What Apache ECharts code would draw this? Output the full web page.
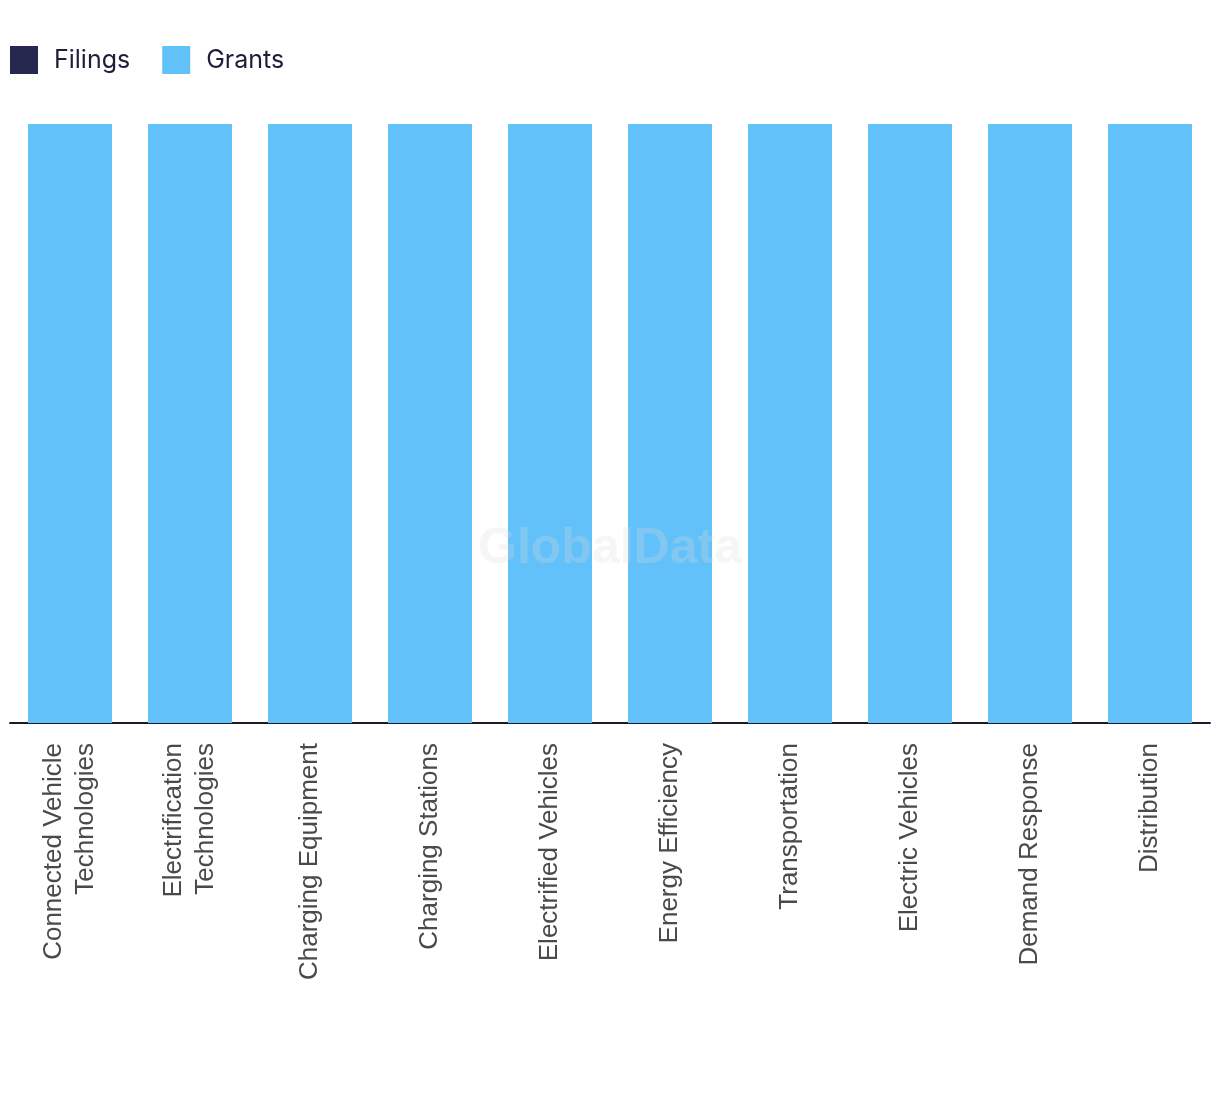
<!DOCTYPE html>
<html>
<head>
<meta charset="utf-8">
<script src="https://cdn.jsdelivr.net/npm/echarts@6/dist/echarts.min.js"></script>
<style>html,body{margin:0;padding:0;background:#fff}#c{width:1220px;height:1094px}</style>
</head>
<body>
<div id="c"></div>
<script>
const categories = ["Connected Vehicle\nTechnologies","Electrification\nTechnologies","Charging Equipment","Charging Stations","Electrified Vehicles","Energy Efficiency","Transportation","Electric Vehicles","Demand Response","Distribution"];
const filings = [0,0,0,0,0,0,0,0,0,0];
const grants = [100,100,100,100,100,100,100,100,100,100];

const chart = echarts.init(document.getElementById('c'));
chart.setOption({
  animation: false,
  backgroundColor: '#ffffff',
  legend: {
    left: 10, top: 46, padding: 0,
    itemWidth: 28, itemHeight: 28, itemGap: 32,
    icon: 'rect',
    textStyle: { fontFamily: 'Inter, Liberation Sans, sans-serif', fontSize: 25, color: '#1e1e3a', padding: [0,0,0,11] },
    data: ['Filings','Grants']
  },
  graphic: [{
    type: 'text', left: 'center', top: 524, z: 100,
    style: { text: 'GlobalData', fontFamily: 'Liberation Sans, Arial, sans-serif', fontWeight: 'bold', fontSize: 50, fill: 'rgba(220,220,220,0.25)' }
  }],
  grid: { left: 10, right: 10, top: 124, bottom: 371, containLabel: false },
  xAxis: {
    type: 'category', data: categories,
    axisLine: { lineStyle: { color: '#1a1a2e', width: 2 } },
    axisTick: { show: false },
    axisLabel: { rotate: 90, interval: 0, margin: 20, fontSize: 26, color: '#4a4a4a', fontFamily: 'Liberation Sans, Arial, sans-serif', lineHeight: 32, padding: [6, 0, 0, 0] }
  },
  yAxis: { type: 'value', min: 0, max: 100, show: false, splitLine: { show: false } },
  series: [
    { name: 'Filings', type: 'bar', stack: 't', data: filings, barWidth: '70%', itemStyle: { color: '#27284f' } },
    { name: 'Grants', type: 'bar', stack: 't', data: grants, barWidth: '70%', itemStyle: { color: '#63c1f9' } }
  ]
});
</script>
</body>
</html>
